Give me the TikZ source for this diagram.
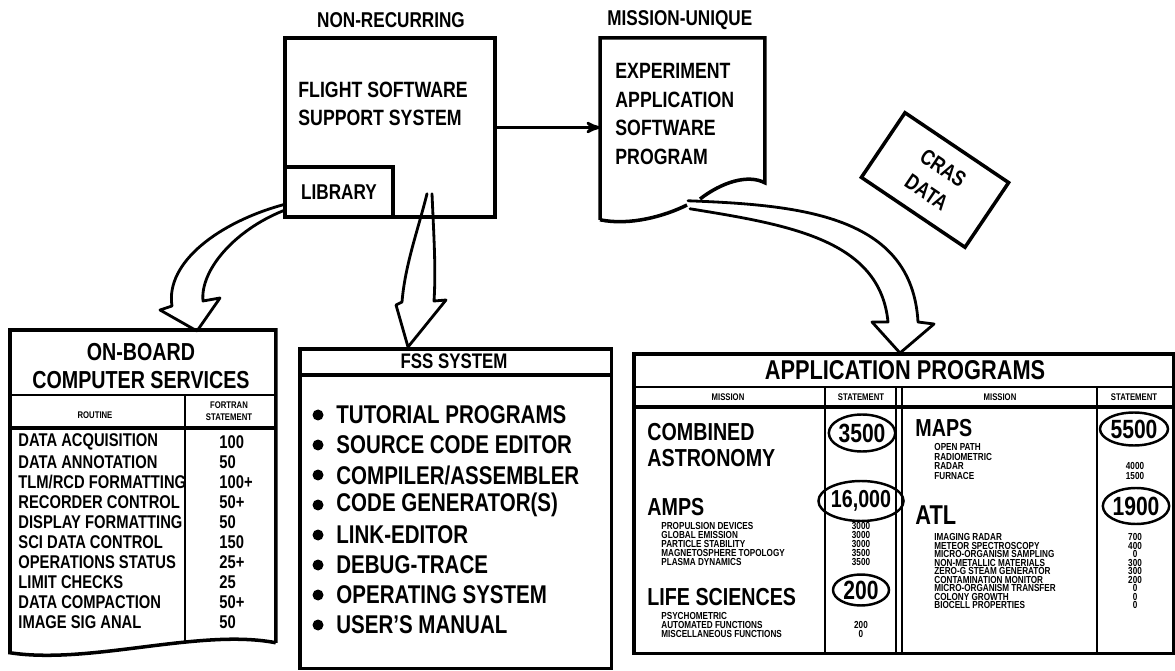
\documentclass[tikz,border=0pt]{standalone}
\usepackage{fontspec}
\setmainfont{Liberation Sans}[FakeStretch=0.8]
\usetikzlibrary{positioning,calc,arrows,shapes}
\newcommand{\fsz}[2]{\fontsize{#1}{#2}\selectfont}

\begin{document}
\begin{tikzpicture}[x=0.02cm, y=-0.02cm, >=stealth', line width=1.6pt,
                    inner sep=0pt]
  \tikzstyle{box}=[draw, line width=2pt]
  \tikzstyle{head}=[font=\fsz{12.2}{15}\bfseries]
  \tikzstyle{big}=[font=\fsz{12.6}{15.9}\bfseries, align=left, anchor=west]
  \tikzstyle{row}=[font=\fsz{10.5}{12}\bfseries, anchor=west]
  \tikzstyle{fitem}=[font=\fsz{14.6}{17}\bfseries, anchor=west]
  \tikzstyle{mis}=[font=\fsz{14}{14.7}\bfseries, anchor=west, align=left]
  \tikzstyle{sub}=[font=\fsz{5.8}{7}\bfseries, anchor=west]
  \tikzstyle{tag}=[font=\fsz{5.5}{6.5}\bfseries, align=center]
  \tikzstyle{stmt}=[draw, ellipse, line width=1.4pt, font=\fsz{15}{15}\bfseries]
  \tikzstyle{block}=[line width=1.6pt, line join=round, line cap=round]

  \useasboundingbox (0,0) rectangle (1175,671);

  % top row
  \node[head] (nonrec) at (391,20) {NON-RECURRING};
  \node[box, minimum width=4.2cm, minimum height=3.58cm] (fsss) at (390,127.5) {};
  \node[big] (fsssText) at (297,104) {FLIGHT SOFTWARE\\SUPPORT SYSTEM};
  \node[box, font=\fsz{12.2}{15}\bfseries, minimum width=2.16cm, minimum height=1cm,
        anchor=south west] (lib) at (fsss.south west) {LIBRARY};

  \node[head, anchor=west] (mission) at (606,20) {MISSION-UNIQUE};
  \node[minimum width=3.24cm, minimum height=2.84cm, anchor=north west] (doc) at (600,38) {};
  \node[big, font=\fsz{12.6}{16.4}\bfseries] (docText) at (614,114)
       {EXPERIMENT\\APPLICATION\\SOFTWARE\\PROGRAM};
  \draw[line width=2pt] ($(doc.south west)+(0,37)$) -- (doc.north west) -- (doc.north east)
       -- (doc.south east) .. controls (748,174) and (722,182) .. (700,199);
  \draw[line width=2pt] ($(doc.south west)+(0,37)$) .. controls (630,226) and (665,216) .. (687,205);

  \draw[->] (fsss.east) -- (fsss.east -| doc.west);

  \node[box, rotate=-34, minimum width=2.5cm, minimum height=1.56cm,
        font=\fsz{12.5}{17}\bfseries, align=center] (cras) at (935,180) {CRAS\\DATA};

  % on-board computer services
  \node[minimum width=5.26cm, minimum height=6.2cm, anchor=north west] (ob) at (10,330) {};
  \draw[line width=2pt] (ob.south east) -- (ob.north east) -- (ob.north west)
       -- ($(ob.south west)+(0,10)$) .. controls (90,665) and (200,628) .. (ob.south east);
  \node[font=\fsz{14}{16.4}\bfseries, align=center] (obTitle) at (141,366) {ON-BOARD\\COMPUTER SERVICES};
  \draw ($(ob.north west)+(0,65)$) -- ($(ob.north east)+(0,65)$);
  \draw[line width=2.6pt] ($(ob.north west)+(0,98)$) -- ($(ob.north east)+(0,98)$);
  \draw (185,395) -- (185,641);
  \node[tag] (routine) at (95,415) {ROUTINE};
  \node[tag] (fortran) at (229,411) {FORTRAN\\STATEMENT};
  \foreach \r/\v [count=\i from 0] in {DATA ACQUISITION/100, DATA ANNOTATION/50,
      {TLM/RCD FORMATTING}/100+, RECORDER CONTROL/50+, DISPLAY FORMATTING/50,
      SCI DATA CONTROL/150, OPERATIONS STATUS/25+, LIMIT CHECKS/25,
      DATA COMPACTION/50+, IMAGE SIG ANAL/50}
    {
      \node[row] (rt\i) at (17,442+20*\i) {\r};
      \node[row] (rv\i) at (218,442+20*\i) {\v};
    }

  % fss system
  \node[box, minimum width=6.24cm, minimum height=6.4cm, anchor=north west] (fss) at (298,347) {};
  \node[font=\fsz{12}{14}\bfseries] (fssTitle) at (454,361) {FSS SYSTEM};
  \draw[line width=2pt] ($(fss.north west)+(0,28)$) -- ($(fss.north east)+(0,28)$);
  \foreach \t [count=\i from 0] in {TUTORIAL PROGRAMS, SOURCE CODE EDITOR,
      COMPILER/ASSEMBLER, {CODE GENERATOR(S)}, LINK-EDITOR, DEBUG-TRACE,
      OPERATING SYSTEM, USER'S MANUAL}
    {
      \node[circle, fill, minimum size=0.22cm] (bul\i) at (318,415+30*\i) {};
      \node[fitem] (fi\i) at (335,415+30*\i) {\t};
    }

  % application programs
  \node[box, minimum width=10.8cm, minimum height=6cm, anchor=north west] (app) at (632,352) {};
  \node[font=\fsz{15.5}{18}\bfseries] (appTitle) at (905,370) {APPLICATION PROGRAMS};
  \draw ($(app.north west)+(0,35)$) -- ($(app.north east)+(0,35)$);
  \draw[line width=2.4pt] ($(app.north west)+(0,55)$) -- ($(app.north east)+(0,55)$);
  \foreach \c in {825,896,902,1097}
    \draw (\c,387) -- (\c,652);
  \node[tag] (hm1) at (728,397) {MISSION};
  \node[tag] (hs1) at (861,397) {STATEMENT};
  \node[tag] (hm2) at (1000,397) {MISSION};
  \node[tag] (hs2) at (1134,397) {STATEMENT};

  \node[mis] (comb) at (646,445) {COMBINED\\ASTRONOMY};
  \node[stmt, minimum width=1.2cm, minimum height=0.74cm] (n3500) at (862,433) {3500};
  \node[mis] (amps) at (646,507) {AMPS};
  \node[stmt, minimum width=1.52cm, minimum height=0.8cm, font=\fsz{14}{14}\bfseries]
       (n16000) at (861,501) {16,000};
  \foreach \s/\v [count=\i from 0] in {PROPULSION DEVICES/3000, GLOBAL EMISSION/3000,
      PARTICLE STABILITY/3000, MAGNETOSPHERE TOPOLOGY/3500, PLASMA DYNAMICS/3500}
    {
      \node[sub] (am\i) at (660,526+9*\i) {\s};
      \node[sub, anchor=center] (amv\i) at (861,526+9*\i) {\v};
    }
  \node[mis] (life) at (646,597) {LIFE SCIENCES};
  \node[stmt, minimum width=1.12cm, minimum height=0.62cm] (n200) at (861,590) {200};
  \node[sub] (ls0) at (660,616) {PSYCHOMETRIC};
  \node[sub] (ls1) at (660,625) {AUTOMATED FUNCTIONS};
  \node[sub] (ls2) at (660,634) {MISCELLANEOUS FUNCTIONS};
  \node[sub, anchor=center] (lsv1) at (861,625) {200};
  \node[sub, anchor=center] (lsv2) at (861,634) {0};

  \node[mis] (maps) at (914,428) {MAPS};
  \node[stmt, minimum width=1.36cm, minimum height=0.66cm] (n5500) at (1134,429) {5500};
  \foreach \s [count=\i from 0] in {OPEN PATH, RADIOMETRIC, RADAR, FURNACE}
    \node[sub] (mp\i) at (933,447+9.5*\i) {\s};
  \node[sub, anchor=center] (mpv2) at (1135,466) {4000};
  \node[sub, anchor=center] (mpv3) at (1135,475.5) {1500};

  \node[mis, font=\fsz{15.5}{16}\bfseries] (atl) at (914,515) {ATL};
  \node[stmt, minimum width=1.32cm, minimum height=0.72cm] (n1900) at (1136,506) {1900};
  \foreach \s/\v [count=\i from 0] in {IMAGING RADAR/700, METEOR SPECTROSCOPY/400,
      MICRO-ORGANISM SAMPLING/0, NON-METALLIC MATERIALS/300, ZERO-G STEAM GENERATOR/300,
      CONTAMINATION MONITOR/200, MICRO-ORGANISM TRANSFER/0, COLONY GROWTH/0,
      BIOCELL PROPERTIES/0}
    {
      \node[sub] (at\i) at (933,537+8.5*\i) {\s};
      \node[sub, anchor=center] (atv\i) at (1135,537+8.5*\i) {\v};
    }

  % hollow arrows
  \coordinate (a1s) at ($(lib.south west)+(0,-14)$);
  \coordinate (a1t) at ($(ob.north west)+(187,1)$);
  \draw[block] (a1s) .. controls (220,222) and (165,262) .. (172,306) -- (160,310) -- (a1t)
       -- (220,298) -- (203,301) .. controls (200,270) and (235,230) .. ($(a1s)+(0,6)$);

  \coordinate (a2s) at ($(fsss.south)+(37,-25)$);
  \coordinate (a2t) at ($(fss.north west)+(110,0)$);
  \draw[block] (a2s) .. controls (418,230) and (405,265) .. (402,302) -- (396,305) -- (a2t)
       -- (446,300) -- (434,301) .. controls (436,270) and (434,240) .. ($(a2s)+(5,0)$);

  \coordinate (a3s) at ($(doc.south west)+(88,18)$);
  \coordinate (a3t) at ($(app.north west)+(268,1)$);
  \draw[block] (a3s) .. controls (800,205) and (912,215) .. (918,322) -- (934,324) -- (a3t)
       -- (872,322) -- (888,322) .. controls (880,240) and (790,225) .. ($(a3s)+(2,8)$);

\end{tikzpicture}
\end{document}
